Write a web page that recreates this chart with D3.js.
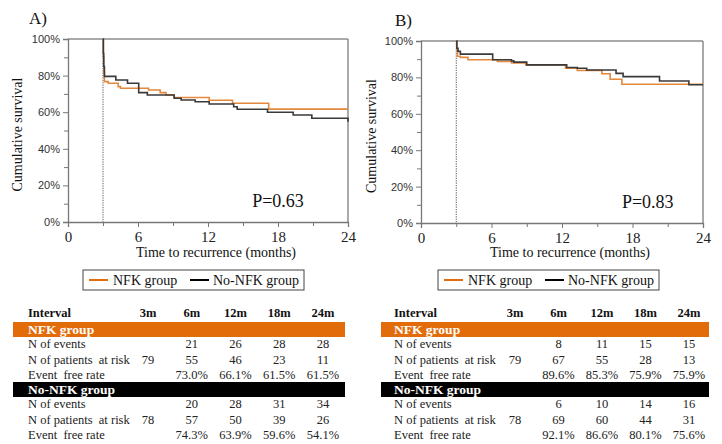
<!DOCTYPE html>
<html><head><meta charset="utf-8">
<script src="https://cdn.jsdelivr.net/npm/d3@7"></script>
<style>body{margin:0;background:#fff}svg{display:block}</style>
</head><body>
<script>
// ---------- DATA ----------
const timeTicks = [0, 6, 12, 18, 24];
const survTicks = [0, 20, 40, 60, 80, 100];
const groups = ["NFK group", "No-NFK group"];
const intervals = ["3m", "6m", "12m", "18m", "24m"];
const rowLabels = ["N of events", "N of patients\u00a0 at risk", "Event\u00a0 free rate"];

// Panel A step curves (time in months, survival %)
const tA_nfk = [3.0, 3.03, 3.07, 3.12, 3.45, 4.3, 4.5, 6.9, 7.9, 8.4, 9.1, 12.1, 14.1, 17.2, 24];
const sA_nfk = [100, 90, 82, 76.7, 75.8, 74.0, 73.1, 72.1, 70.7, 69.4, 68.0, 66.5, 64.9, 61.7, 61.7];
const tA_no = [3.0, 3.03, 3.06, 3.12, 4.1, 5.1, 6.06, 6.8, 9.1, 9.7, 10.9, 12.1, 14.2, 14.5, 17.1, 19.3, 20.9, 23.9, 24];
const sA_no = [100, 92, 85, 79.6, 77.6, 75.8, 70.7, 69.4, 67.6, 66.7, 65.7, 64.5, 63.0, 61.6, 60.0, 58.5, 56.7, 56.7, 54.8];
// Panel B step curves
const tB_nfk = [3.0, 3.05, 3.1, 3.35, 4.0, 6.5, 7.7, 8.9, 12.3, 13.3, 15.4, 16.1, 17.1, 24];
const sB_nfk = [100, 95, 91.6, 91.0, 89.7, 88.8, 87.9, 86.9, 85.1, 83.8, 82.0, 79.0, 76.2, 76.2];
const tB_no = [3.0, 3.05, 3.15, 3.35, 6.1, 7.7, 7.9, 9.0, 12.4, 13.3, 14.1, 16.6, 17.2, 20.3, 22.8, 24];
const sB_no = [100, 96, 94.3, 92.8, 89.7, 89.1, 88.4, 86.9, 85.4, 85.0, 84.1, 82.2, 80.4, 78.0, 76.0, 76.0];

const pA = "P=0.63", pB = "P=0.83";

// Tables
const eventsA_nfk = [null, 21, 26, 28, 28];
const riskA_nfk = [79, 55, 46, 23, 11];
const efrA_nfk = [null, 73.0, 66.1, 61.5, 61.5];
const eventsA_no = [null, 20, 28, 31, 34];
const riskA_no = [78, 57, 50, 39, 26];
const efrA_no = [null, 74.3, 63.9, 59.6, 54.1];

const eventsB_nfk = [null, 8, 11, 15, 15];
const riskB_nfk = [79, 67, 55, 28, 13];
const efrB_nfk = [null, 89.6, 85.3, 75.9, 75.9];
const eventsB_no = [null, 6, 10, 14, 16];
const riskB_no = [78, 69, 60, 44, 31];
const efrB_no = [null, 92.1, 86.6, 80.1, 75.6];

// ---------- STYLE ----------
const ORANGE_LINE = "#e3883c", DARK_LINE = "#3a3a3a";
const ORANGE_BAND = "#e36c0a";
const SERIF = "'Liberation Serif','Times New Roman',serif";
const SANS = "'Liberation Sans',Arial,sans-serif";

const svg = d3.select("body").append("svg").attr("width", 722).attr("height", 444);

function panel(cfg) {
  const g = svg.append("g");
  const x = d3.scaleLinear().domain([0, 24]).range([cfg.x0, cfg.x1]);
  const y = d3.scaleLinear().domain([0, 100]).range([cfg.y1, cfg.y0]);

  // frame top & right
  g.append("line").attr("x1", cfg.x0).attr("x2", cfg.x1).attr("y1", cfg.y0).attr("y2", cfg.y0)
    .attr("stroke", "#8c8c8c").attr("stroke-width", 1.5);
  g.append("line").attr("x1", cfg.x1).attr("x2", cfg.x1).attr("y1", cfg.y0).attr("y2", cfg.y1)
    .attr("stroke", "#8c8c8c").attr("stroke-width", 1.5);

  // y axis
  const ya = g.append("g").attr("transform", `translate(${cfg.x0},0)`)
    .call(d3.axisLeft(y).tickValues(survTicks).tickFormat(d => d + "%").tickSize(5).tickPadding(3));
  g.append("g").attr("transform", `translate(${cfg.x0},0)`)
    .call(d3.axisLeft(y).tickValues(d3.range(10, 100, 20)).tickFormat("").tickSize(4))
    .call(s => s.select(".domain").remove());
  // x axis
  const xa = g.append("g").attr("transform", `translate(0,${cfg.y1})`)
    .call(d3.axisBottom(x).tickValues(timeTicks).tickSize(5).tickPadding(4));
  g.append("g").attr("transform", `translate(0,${cfg.y1})`)
    .call(d3.axisBottom(x).tickValues([3, 9, 15, 21]).tickFormat("").tickSize(4))
    .call(s => s.select(".domain").remove());
  g.selectAll(".domain").attr("stroke", "#777").attr("stroke-width", 1.3);
  g.selectAll(".tick line").attr("stroke", "#777");
  ya.selectAll("text").attr("font-family", SANS).attr("font-size", 11).attr("fill", "#333");
  xa.selectAll("text").attr("font-family", SERIF).attr("font-size", 15).attr("fill", "#222");

  // dotted landmark line at 3 months
  g.append("line").attr("x1", x(3)).attr("x2", x(3)).attr("y1", y(100)).attr("y2", y(0))
    .attr("stroke", "#555").attr("stroke-width", 1).attr("stroke-dasharray", "1.2,1.2");

  const line = d3.line().x(d => x(d[0])).y(d => y(d[1])).curve(d3.curveStepAfter);
  cfg.curves.forEach(c => {
    g.append("path").datum(d3.zip(c.t, c.s)).attr("d", line)
      .attr("fill", "none").attr("stroke", c.color).attr("stroke-width", 1.6);
  });

  // labels
  g.append("text").attr("x", cfg.labelX).attr("y", cfg.labelY).text(cfg.label)
    .attr("font-family", SERIF).attr("font-size", 17).attr("fill", "#111");
  g.append("text").attr("x", (cfg.x0 + cfg.x1) / 2 + 8).attr("y", 257)
    .attr("text-anchor", "middle").text("Time to recurrence (months)")
    .attr("font-family", SERIF).attr("font-size", 14).attr("fill", "#111");
  g.append("text").attr("transform", `translate(${cfg.ytX},${(cfg.y0 + cfg.y1) / 2 + 4}) rotate(-90)`)
    .attr("text-anchor", "middle").text("Cumulative survival")
    .attr("font-family", SERIF).attr("font-size", 14).attr("fill", "#111");
  g.append("text").attr("x", x(cfg.pT)).attr("y", y(8)).attr("text-anchor", "middle").text(cfg.p)
    .attr("font-family", SERIF).attr("font-size", 18).attr("fill", "#111");

  // legend
  const lg = g.append("g").attr("transform", `translate(${cfg.legX},270)`);
  lg.append("rect").attr("x", 0).attr("y", 0).attr("width", 221).attr("height", 20)
    .attr("fill", "#fff").attr("stroke", "#444").attr("stroke-width", 1);
  const legItems = [{name: groups[0], color: ORANGE_BAND, lx: 6, tx: 30}, {name: groups[1], color: "#000", lx: 107, tx: 130}];
  legItems.forEach(it => {
    lg.append("line").attr("x1", it.lx).attr("x2", it.lx + 19).attr("y1", 10).attr("y2", 10)
      .attr("stroke", it.color).attr("stroke-width", 2);
    lg.append("text").attr("x", it.tx).attr("y", 15).text(it.name)
      .attr("font-family", SERIF).attr("font-size", 14).attr("fill", "#111");
  });
}

panel({x0: 68, x1: 348, y0: 39, y1: 222, label: "A)", labelX: 29, labelY: 24, ytX: 22, legX: 83, p: pA, pT: 18,
  curves: [{t: tA_nfk, s: sA_nfk, color: ORANGE_LINE}, {t: tA_no, s: sA_no, color: DARK_LINE}]});
panel({x0: 421, x1: 703, y0: 41, y1: 223, label: "B)", labelX: 395, labelY: 26, ytX: 376, legX: 438, p: pB, pT: 19.3,
  curves: [{t: tB_nfk, s: sB_nfk, color: ORANGE_LINE}, {t: tB_no, s: sB_no, color: DARK_LINE}]});

function table(cfg) {
  const g = svg.append("g");
  const fs = 12.5;
  const cx = d3.scalePoint().domain(intervals).range(cfg.cols);
  // header
  g.append("text").attr("x", cfg.labX).attr("y", 317).text("Interval")
    .attr("font-family", SERIF).attr("font-size", fs).attr("font-weight", "bold").attr("fill", "#111");
  intervals.forEach(iv => g.append("text").attr("x", cx(iv)).attr("y", 317).attr("text-anchor", "middle")
    .text(iv).attr("font-family", SERIF).attr("font-size", fs).attr("font-weight", "bold").attr("fill", "#111"));
  const blocks = [
    {name: groups[0], band: ORANGE_BAND, top: 322, rows: [cfg.data[0], cfg.data[1], cfg.data[2]]},
    {name: groups[1], band: "#000", top: 382, rows: [cfg.data[3], cfg.data[4], cfg.data[5]]}
  ];
  blocks.forEach(b => {
    g.append("rect").attr("x", cfg.bx0).attr("y", b.top).attr("width", cfg.bx1 - cfg.bx0).attr("height", 15)
      .attr("fill", b.band);
    g.append("text").attr("x", cfg.labX).attr("y", b.top + 12).text(b.name)
      .attr("font-family", SERIF).attr("font-size", 13.5).attr("font-weight", "bold").attr("fill", "#fff");
    b.rows.forEach((vals, ri) => {
      const yy = b.top + 26 + ri * 15.5;
      g.append("text").attr("x", cfg.labX).attr("y", yy).text(rowLabels[ri])
        .attr("font-family", SERIF).attr("font-size", fs).attr("fill", "#222");
      vals.forEach((v, ci) => {
        if (v === null) return;
        g.append("text").attr("x", cx(intervals[ci])).attr("y", yy).attr("text-anchor", "middle")
          .text(ri === 2 ? v.toFixed(1) + "%" : v)
          .attr("font-family", SERIF).attr("font-size", fs).attr("fill", "#222");
      });
    });
  });
}

// columns positions are given as range ends of a point scale (3m .. 24m)
table({labX: 28, bx0: 13, bx1: 345, cols: [148, 323],
  data: [eventsA_nfk, riskA_nfk, efrA_nfk, eventsA_no, riskA_no, efrA_no]});
table({labX: 394, bx0: 381, bx1: 709, cols: [515, 689],
  data: [eventsB_nfk, riskB_nfk, efrB_nfk, eventsB_no, riskB_no, efrB_no]});
</script>
</body></html>
